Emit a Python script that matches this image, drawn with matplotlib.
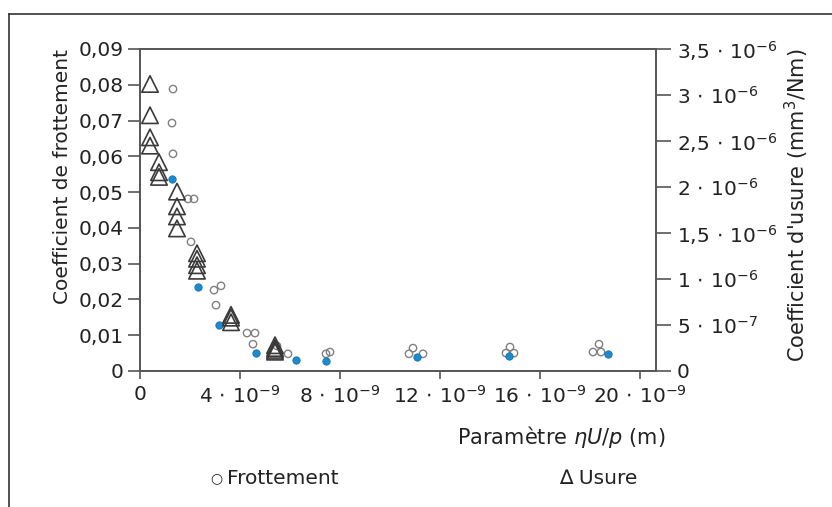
import matplotlib
matplotlib.use("Agg")
import matplotlib.pyplot as plt
from matplotlib.lines import Line2D

plt.rcParams['font.family'] = ['DejaVu Sans']
plt.rcParams['mathtext.fontset'] = 'dejavusans'

# ---- data (x in units of 1e-9 m) ----
fr_open_x = [1.32, 1.28, 1.32, 1.92, 2.16, 2.04, 2.96, 3.24, 3.04, 4.28, 4.60, 4.52,
             5.48, 5.92, 7.44, 7.60, 10.92, 10.76, 11.32, 14.80, 14.64, 14.96,
             18.36, 18.12, 18.44]
fr_open_y = [0.0788, 0.0693, 0.0607, 0.0481, 0.0481, 0.0361, 0.0226, 0.0238, 0.0184,
             0.0106, 0.0106, 0.0075, 0.0070, 0.0048, 0.0048, 0.0053, 0.0064, 0.0048,
             0.0048, 0.0067, 0.0050, 0.0050, 0.0075, 0.0053, 0.0053]
fr_blue_x = [1.28, 2.32, 3.16, 4.64, 6.24, 7.44, 11.08, 14.76, 18.72]
fr_blue_y = [0.0537, 0.0235, 0.0129, 0.0050, 0.0031, 0.0028, 0.0039, 0.0042, 0.0048]

# wear coefficient (units of 1e-6 mm3/Nm)
us_x = [0.40, 0.40, 0.40, 0.40, 0.76, 0.76, 0.76, 1.48, 1.48, 1.48, 1.48,
        2.28, 2.28, 2.28, 2.28, 3.64, 3.64, 3.64, 5.40, 5.40, 5.40, 5.40]
us_y = [3.12, 2.78, 2.54, 2.45, 2.27, 2.16, 2.11, 1.95, 1.79, 1.68, 1.55,
        1.28, 1.22, 1.15, 1.09, 0.61, 0.58, 0.53, 0.28, 0.25, 0.23, 0.21]

x_ticks = [0, 4, 8, 12, 16, 20]
x_ticklabels = ['0', r'$4\,\cdot\,10^{-9}$', r'$8\,\cdot\,10^{-9}$', r'$12\,\cdot\,10^{-9}$',
                r'$16\,\cdot\,10^{-9}$', r'$20\,\cdot\,10^{-9}$']
yl_ticks = [0, 0.01, 0.02, 0.03, 0.04, 0.05, 0.06, 0.07, 0.08, 0.09]
yl_ticklabels = ['0', '0,01', '0,02', '0,03', '0,04', '0,05', '0,06', '0,07', '0,08', '0,09']
yr_ticks = [0, 0.5, 1.0, 1.5, 2.0, 2.5, 3.0, 3.5]
yr_ticklabels = ['0', r'$5\,\cdot\,10^{-7}$', r'$1\,\cdot\,10^{-6}$', r'$1{,}5\,\cdot\,10^{-6}$',
                 r'$2\,\cdot\,10^{-6}$', r'$2{,}5\,\cdot\,10^{-6}$', r'$3\,\cdot\,10^{-6}$',
                 r'$3{,}5\,\cdot\,10^{-6}$']

W, H = 832, 507
fig = plt.figure(figsize=(W / 100, H / 100), dpi=100)
L, R, B, T = 140, 656, 371, 49
ax = fig.add_axes([L / W, 1 - B / H, (R - L) / W, (B - T) / H])
ax2 = ax.twinx()

spine_c = '#555555'
txt_c = '#222222'
fs = 14.5
ax.set_xlim(0, 20.64)
ax.set_ylim(0, 0.09)
ax2.set_ylim(0, 3.5)

ax.scatter(fr_open_x, fr_open_y, s=28, facecolors='none', edgecolors='#808080',
           linewidths=1.0, zorder=3)
ax.scatter(fr_blue_x, fr_blue_y, s=28, facecolors='#1a8ccc', edgecolors='#1670a8',
           linewidths=0.6, zorder=4)
ax2.scatter(us_x, us_y, marker='^', s=140, facecolors='none', edgecolors='#3a3a3a',
            linewidths=1.2, zorder=2)

ax.set_xticks(x_ticks)
ax.set_xticklabels(x_ticklabels)
ax.set_yticks(yl_ticks)
ax.set_yticklabels(yl_ticklabels)
ax2.set_yticks(yr_ticks)
ax2.set_yticklabels(yr_ticklabels)

for a in (ax, ax2):
    for s in a.spines.values():
        s.set_color(spine_c)
        s.set_linewidth(1.2)
ax.tick_params(axis='x', direction='out', length=6, width=1.2, color=spine_c,
               labelsize=fs, pad=4, labelcolor=txt_c)
ax.tick_params(axis='y', direction='out', length=9, width=1.2, color=spine_c,
               labelsize=fs, pad=3, labelcolor=txt_c)
ax2.tick_params(axis='y', direction='out', length=11, width=1.2, color=spine_c,
                labelsize=fs, pad=4, labelcolor=txt_c)

fig.text(62 / W, 1 - 176 / H, 'Coefficient de frottement', rotation=90,
         ha='center', va='center', fontsize=fs, color=txt_c)
fig.text(797 / W, 1 - 205 / H, r"Coefficient d'usure (mm$^3$/Nm)", rotation=90,
         ha='center', va='center', fontsize=15, color=txt_c)
fig.text(665 / W, 1 - 437 / H, r'Paramètre $\eta U/p$ (m)', ha='right', va='center',
         fontsize=15, color=txt_c)
fig.text(216 / W, 1 - 478 / H, '○', ha='center', va='center',
         fontsize=10, color=txt_c)
fig.text(227 / W, 1 - 478 / H, 'Frottement', ha='left', va='center',
         fontsize=fs, color=txt_c)
fig.text(598 / W, 1 - 478 / H, '∆ Usure', ha='center', va='center',
         fontsize=fs, color=txt_c)

# partial frame of the original figure
fig.add_artist(Line2D([9 / W, 1], [1 - 14 / H, 1 - 14 / H], transform=fig.transFigure,
                      color='#333333', linewidth=1.2))
fig.add_artist(Line2D([9 / W, 9 / W], [0, 1 - 14 / H], transform=fig.transFigure,
                      color='#333333', linewidth=1.2))

fig.savefig('out.png', dpi=100)
